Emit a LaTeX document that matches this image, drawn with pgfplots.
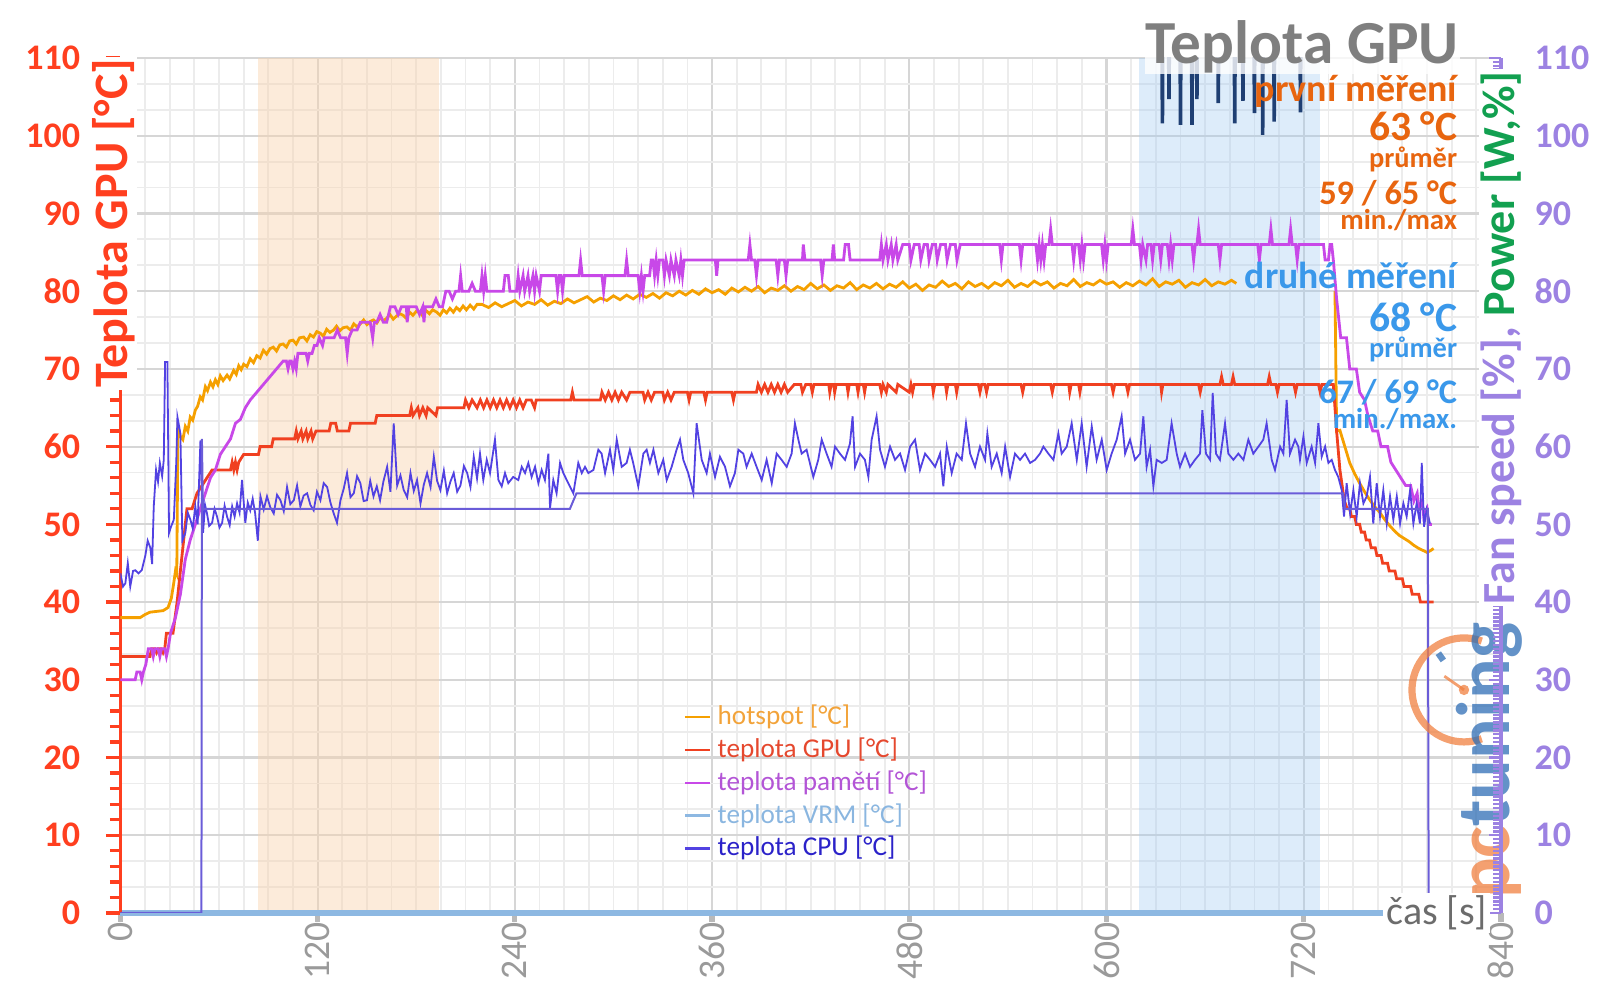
\documentclass[border=0pt]{standalone}
\usepackage{fontspec}
\setmainfont{Carlito}
\usepackage{pgfplots}
\pgfplotsset{compat=1.18}
\newcommand\fs[1]{\fontsize{#1}{#1}\selectfont}
\definecolor{hot}{HTML}{F5A000}
\definecolor{gpu}{HTML}{F04020}
\definecolor{mem}{HTML}{C848E8}
\definecolor{vrm}{HTML}{8DB8E2}
\definecolor{cpu}{HTML}{5242E2}
\definecolor{fan}{HTML}{6A5CD8}
\definecolor{navy}{HTML}{1F3F73}
\definecolor{axred}{HTML}{FF3F1F}
\definecolor{axpur}{HTML}{9C82E2}
\definecolor{pwrgreen}{HTML}{12A050}
\definecolor{titlegray}{HTML}{7F7F7F}
\definecolor{orangeT}{HTML}{E8650F}
\definecolor{blueT}{HTML}{3A98EA}
\definecolor{xgray}{HTML}{9A9A9A}
\definecolor{gridmaj}{HTML}{D6D6D6}
\definecolor{gridmin}{HTML}{ECECEC}
\definecolor{bandO}{HTML}{F8D2AC}
\definecolor{bandB}{HTML}{9EC8F2}
\definecolor{logoO}{HTML}{F08040}
\definecolor{logoB}{HTML}{2F6EB5}
\definecolor{lhot}{HTML}{F2A33A}
\definecolor{lgpu}{HTML}{E5482E}
\definecolor{lmem}{HTML}{B355D6}
\definecolor{lvrm}{HTML}{8AB6E0}
\definecolor{lcpu}{HTML}{2B22C9}
\begin{document}
\begin{tikzpicture}
\path[use as bounding box] (-30.1pt,-23.75pt) rectangle (369.9pt,228.25pt);
\pgfplotsset{base/.style={scale only axis, width=345.15pt, height=213.75pt,
  xmin=0, xmax=840, ymin=0, ymax=110, at={(0pt,0pt)}, anchor=south west,
  /pgf/number format/assume math mode=true}}

% grid and bands
\begin{axis}[base, axis line style={draw=none}, tick style={draw=none},
  xtick={0,120,...,840}, ytick={0,10,...,110}, minor x tick num=7, minor y tick num=2,
  xticklabels={}, yticklabels={}, grid=both,
  major grid style={draw=gridmaj, line width=0.55pt},
  minor grid style={draw=gridmin, line width=0.45pt}]
\addplot[draw=none, fill=bandO, fill opacity=0.45] coordinates {(84,110)(194,110)} \closedcycle;
\addplot[draw=none, fill=bandB, fill opacity=0.35] coordinates {(620,110)(730,110)} \closedcycle;
\end{axis}

% x axis (and the VRM series lying on it)
\begin{axis}[base, hide y axis, axis x line*=bottom, clip=false,
  axis line style={draw=gray!55, line width=0.5pt},
  xtick={0,120,...,840}, tick align=outside, major tick length=2.2pt,
  tick style={draw=gray!55, line width=1.3pt},
  xticklabel style={rotate=90, anchor=east, inner sep=0pt, font=\fs{9.4}, text=xgray}]
\addplot[vrm, line width=1.3pt] coordinates {(0,0)(797,0)};
\end{axis}

% left axis and data
\begin{axis}[base, hide x axis, axis y line*=left,
  axis line style={draw=axred, line width=0.8pt},
  ytick={0,10,...,110}, minor y tick num=4, tick align=outside,
  major tick length=3.6pt, minor tick length=2.6pt,
  tick style={draw=axred, line width=0.8pt},
  yticklabel style={font=\bfseries\fs{9}, text=axred, inner sep=0pt, anchor=east, xshift=-6.3pt},
  clip mode=individual, unbounded coords=jump,
  legend style={at={(rel axis cs:0.408,0.247)}, anchor=north west, draw=none, fill=none,
    inner sep=0pt, outer sep=0pt, row sep=0.5pt, font=\fs{6.8},
    nodes={inner sep=0.5pt, text height=5.2pt, text depth=1.5pt},
    /tikz/every odd column/.append style={column sep=1.0pt}},
  legend cell align=left,
  legend image code/.code={\draw[#1, line width=0.6pt] (0pt,0pt) -- (6.4pt,0pt);}]

\addplot[hot, line width=0.7pt] coordinates {
(0,38)(6,38)(12,38)(15,38.4)(18,38.7)(22,38.8)(26,38.9)(29,39.3)(31,40.5)(32.5,42.5)(33.5,44)(34.3,43.6)(35,62.2)(36.5,61.3)(38,60.9)(39.5,62.6)(41,62.0)(42.5,63.8)(44,63.4)(45.6,64.7)(47,65.2)(48.6,66.4)(50,66.0)(51.7,67.7)(53,67.2)(54.8,68.3)(56.3,67.7)(57.8,68.6)(59.3,68.0)(60.8,69.1)(62.5,68.5)(64.9,69.2)(66.5,68.7)(68.9,69.8)(70.5,69.3)(72,70.4)(73.5,69.9)(75,70.6)(77,70.3)(79,71.3)(81,70.8)(83,71.7)(85,71.4)(87,72.4)(89,71.9)(91,72.6)(93,72.8)(95,72.3)(97,73.1)(99,73.2)(101,72.8)(103,73.6)(105,73.7)(107,73.2)(109,74.0)(111.5,74.1)(113.5,73.6)(115.5,74.4)(117.5,74.1)(119.5,74.8)(121.6,74.6)(123.5,74.2)(125.5,75.1)(127.5,74.7)(129.7,75.0)(131.5,75.5)(133.5,74.9)(135.5,75.3)(137.8,75.4)(140,75.0)(142,75.8)(144,75.4)(146,75.8)(148,76.3)(150,75.7)(152,76.1)(154,76.3)(156,75.9)(158,76.6)(160,76.2)(162,76.5)(164,77.0)(166,76.4)(168,76.8)(170,77.1)(172,76.9)(174,76.5)(176,77.3)(178,76.9)(180,77.4)(182.3,77.3)(184,76.8)(186,77.5)(188,77.1)(190,77.6)(192.5,77.3)(194.5,76.9)(196.5,77.6)(198.5,77.2)(200.5,77.8)(202.6,77.3)(204.5,77.9)(206.5,77.5)(208.5,78.1)(210.5,77.6)(212.8,78.2)(215,77.7)(217,78.3)
(220,78.3)(224,77.9)(228,78.5)(232,78.0)(236,78.4)(240,78.8)(244,78.1)(248,78.6)(252,78.3)(256,78.9)(260,78.2)(264,78.7)(268,78.4)(272,79.0)(276,78.5)(280,78.9)(284,79.3)(288,78.6)(292,79.1)(296,78.8)(300,79.4)(304,78.9)(308,79.5)(312,79.0)(316,79.6)(320,79.2)(324,79.7)(328,79.1)(332,79.8)(336,79.4)(340,80.0)(344,79.5)(348,80.1)(352,79.6)(356,80.3)(360,79.8)(364,80.2)(368,79.6)(372,80.4)(376,79.9)(380,80.5)(384,80.0)(388,80.6)(392,79.8)(396,80.4)(400,80.1)(404,80.7)(408,80.0)(412,80.6)(416,80.2)(420,81.0)(424,80.3)(428,80.8)(432,80.1)(436,80.7)(440,80.4)(444,81.1)(448,80.2)(452,80.8)(456,80.4)(460,81.0)(464,80.3)(468,80.9)(472,80.5)(476,81.2)(480,80.4)(484,80.9)(488,80.1)(492,80.8)(496,80.5)(500,81.3)(504,80.6)(508,81.0)(512,80.3)(516,81.2)(520,80.6)(524,81.0)(528,80.4)(532,81.1)(536,80.7)(540,81.4)(544,80.5)(548,81.0)(552,80.6)(556,81.3)(560,80.8)(564,81.2)(568,80.4)(572,81.0)(576,80.7)(580,81.5)(584,80.6)(588,81.1)(592,80.8)(596,81.4)(600,80.9)(604,81.2)(608,80.5)(612,81.1)(616,80.7)(620,81.3)(624,80.8)(628,81.6)(632,80.6)(636,81.2)(640,80.9)(644,81.4)(648,80.5)(652,81.1)(656,80.8)(660,81.5)(664,80.7)(668,81.2)(672,80.9)(676,81.4)(679,81.0)
(700,nan)
(739,80)(740,62)(742,62.1)(745,60)(748,57.9)(751,56.5)(754,55.3)(757,54.2)(760,53.2)(763,52.3)(766,51.6)(769,50.7)(772,49.9)(775,49.2)(778,48.6)(781,48.2)(784,47.8)(787,47.3)(790,46.9)(793,46.6)(795,46.4)(797,46.6)(799,46.9)
};
\addlegendentry{\textcolor{lhot}{hotspot [°C]}}

\addplot[gpu, line width=0.7pt] coordinates {
(0,33)(18,33)(19,34)(21,34)(22,33.5)(23,34)(25,34)(26,33.5)(27,34)(28,36)(32,36)(34.5,40)(36.5,44)(39.5,50)(40.5,52)(43.6,52)(46.6,54)(49.7,55)(52.7,56)(55.8,57)(67,57)(68,58)(69,57)(70,58)(71,57)(72,58)(75,59)(84,59)(85,60)(92,60)(93,61)(106,61)(107,62)(108,61)(110,62)(111,61)(113,62)(114,61)(116,62)(117,61)(119,62)(127,62)(128,63)(131,63)(132,62)(139,62)(140,63)(155,63)(156,64)(176,64)(177,65)(178,64)(181,65)(182,64)(184,65)(186,64)(187,65)(192,64)(193,65)(209,65)(210,66)(212,65)(214,66)(217,65)(219,66)(221,65)(223,66)(225,65)(227,66)(229,65)(231,66)(233,65)(235,66)(237,65)(239,66)(241,65)(243,66)(245,65)(247,66)(250,66)(252,65)(253,66)(274,66)(275,67)(276,66)(292,66)(293,67)(295,66)(297,67)(299,66)(301,67)(303,66)(305,67)(308,66)(310,67)(318,67)(319,66)(321,67)(323,66)(325,67)(330,67)(331,66)(333,67)(335,66)(337,67)(345,67)(346,66)(347,67)(355,67)(356,66)(357,67)(372,67)(373,66)(374,67)(387,67)(388,68)(390,67)(392,68)(394,67)(396,68)(398,67)(400,68)(402,67)(404,68)(406,67)(410,68)(414,68)(415,67)(417,68)(420,68)(421,67)(422,68)
(431,68)(431.6,67)(432.5,68)(434,68)(434.6,67)(435.5,68)(442,68)(442.7,67)(443.5,68)(448,68)(448.8,67)(449.6,68)(452,68)(452.8,67)(453.6,68)(462,68)(463,67)(464,68)(466,67)(467,68)(472,67)(473,68)(480,67)(481,68)(482,67)(483,68)(494,68)(494.6,67)(495.5,68)(502,68)(502.7,67)(503.5,68)(508,68)(508.8,67)(509.6,68)(522,68)(523,67)(524,68)(526,68)(527,67)(528,68)(548,68)(549,67)(550,68)(566,68)(567,67)(568,68)(577,68)(577.6,67)(578.5,68)(583,68)(583.8,67)(584.6,68)(603,68)(604,67)(605,68)(612,68)(613,67)(614,68)(633,68)(633.5,67)(634.3,68)(656,68)(657,67)(658,68)(669,68)(670,69)(671,68)(676,68)(677,69)(678,68)(698,68)(699,69)(700,68)(703,68)(704,67)(705,68)(714,68)(715,67)(716,68)(729,68)(730,67)(731,68)(738,68)
(740,62)(742,57)(744.7,53)(746.5,52)(748,52)(749,51)(751,51)(752,50)(754,50)(755,49)(757,49)(758,48)(760,48)(761,47)(763.5,47)(764.5,46)(767,46)(768,45)(771,45)(772,44)(775.5,44)(776.5,43)(780,43)(781,42)(785,42)(786,41)(790,41)(791,40)(799,40)
};
\addlegendentry{\textcolor{lgpu}{teplota GPU [°C]}}

\addplot[mem, line width=0.7pt] coordinates {
(0,30)(9,30)(10,31)(12,31)(13,30)(14,31)(15.5,32)(17,34)(19,34)(20,33)(21,34)(23,34)(24,33)(25,34)(27,34)(28,33)(29,34)(30.5,36)(33.5,38)(36.5,41)(39.5,45.5)(42.5,48)(45.6,50)(48.6,52)(51.7,54)(54.8,56)(57.8,57)(60.8,59)(63.9,60)(67,61)(70,63)(73,63.5)(76,65)(79,66)(83,67)(87,68)(91,69)(95,70)(99,71)(101,71)(102,70)(103,71)(104,71)(105,70)(106,71)(107,70)(108,72)(110.5,72)(113,72)(114,71)(115,72)(116.6,72)(118,73)(119.6,73)(121,74)(123,73)(124,74)(126,74)(130,74)(132,75)(134,74)(137,74)(138,72)(139,74)(141,75)(144,75)(146,76)(148,76)(152,76)(153.5,74)(154.5,76)(156,76)(158,77)(160,76)(162,76)(164.3,78)(167,78)(169,77)(171,78)(174,78)(174.5,76)(175.5,78)(180,78)(182,77)(184,78)(184.7,76)(185.5,78)(190,78)(192,79)(194,78)(196,78)(198,80)(200,80)(202,79)(204,80)(206,80)(207,82)(208,80)(212,80)(214,81)(216,80)(219,80)(220,82)(221,80)(222,82)(223,80)(225,80)(233,80)(234,82)(236,82)(237,80)(241,80)(242,82)(243,80)(245,82)(246,80)(248,82)(249,80)(251,82)(252,80)(253,82)(255,80)(256,82)(257,82)(265,82)(266,80)(267,82)(268,82)(269,80)(270,82)(279,82)(280,84)(281,82)(293,82)(294,80)(295,82)(307,82)(308,84)(309,82)(315,82)(316,80)(317,82)(318,80)(319,82)(322,82)(323,84)(324,84)(325,82)(326,84)(327,82)(328,84)(330,84)(331,82)(332,84)(334,82)(335,84)(337,82)(338,84)(340,82)(341,84)(342,82)(343,84)(362,84)(362.8,82)(363.6,84)(382,84)(383,86)(384,84)(386,84)(387,82)(388,84)(399,84)(400,82)(401,84)(404,84)(405,82)(406,84)(415,84)(415.5,86)(416.5,84)(426,84)(427,82)(428,84)(433,84)(433.8,86)(434.6,84)(440,84)(441,86)(443,86)(444,84)(462,84)(463,86)(464,84)(466,86)(467,84)(469,86)(470,84)(472,86)(473,84)(476,86)(478,86)(480,86)(481,84)(483,86)(486,86)(487,84)(489,86)(491,86)(492,84)(494,86)(496,86)(497,84)(499,86)(502,86)(503,84)(505,86)(508,86)(509,84)(511,86)(515,86)(535,86)(536,84)(537,86)(547,86)(548,84)(549,86)(557,86)(558,84)(559,86)(560,84)(561,86)(562,84)(563,86)(565,86)(566,88)(567,86)(579,86)(580,84)(581,86)(583,86)(584,84)(585,86)(586,84)(587,86)(597,86)(598,84)(599,86)(600,84)(601,86)(615,86)(616,88)(617,86)(620,86)(621,84)(622,86)(624,84)(625,86)(627,86)(628,84)(629,86)(632,86)(633,84)(634,86)(637,86)(638,84)(639,86)(640,84)(641,86)(652,86)(653,84)(654,86)(655,86)(656,88)(657,86)(668,86)(669,84)(670,86)(692,86)(693,84)(694,86)(699,86)(700,88)(701,86)(711,86)(712,88)(713,86)(715,86)(716,84)(717,86)(732,86)(733,84)(735,84)(736,86)(737,86)(738,84)(740,79)(742.5,74)(746,74)(748,70)(752,70)(754,67)(757,66)(759,64)(762,62)(765,62)(767,60)(771,60)(773,58)(776,57)(779,56)(782,55)(785,55)(787,53)(789,54)(790,52)(792,53)(793,51)(795,52)(796,50)(798,50)
};
\addlegendentry{\textcolor{lmem}{teplota pamětí [°C]}}

\addlegendimage{vrm, line width=0.6pt}
\addlegendentry{\textcolor{lvrm}{teplota VRM [°C]}}

\addplot[cpu, line width=0.45pt] coordinates {
(0,43.7)(1.6,42.0)(3,42.4)(4.5,45.0)(6,42.0)(7.7,44.0)(9,44.1)(11,43.7)(13,44.1)(15.2,46.0)(16.6,47.9)(18.2,47.0)(19.3,44.9)(20.3,52.3)(21.7,57.0)(22.9,55.5)(24,57.9)(25.4,56.2)(26.4,58.3)(27.2,70.9)(28.6,70.9)(29.6,48.9)(30.8,49.7)(32.5,50.6)(34,58)(34.7,63.8)(36.5,61.7)(37.7,47.9)(39.5,48.9)(41,51.5)(42.6,50.6)(44,49.5)(45.6,52.3)(47,50)(48.7,60.8)(50.3,48.9)(51.5,52.5)(52.7,51.4)(54,49.8)(55.8,50.2)(57.3,52.0)(58.8,51.0)(60.3,49.6)(61.9,50.2)(63.4,52.4)(64.9,51.0)(66.5,49.9)(68,52.3)(69.5,51.0)(71,52.7)(72.5,51.5)(74,55.7)(76,50.2)(77.5,52.8)(79,51.8)(80.5,53.3)(82,51.4)(83.6,47.9)(85.2,53.6)(87.2,51.9)(89.2,53.6)(91.2,52.2)(93.3,51.4)(95.3,53.8)(97.4,53.1)(99.4,51.7)(101.4,54.8)(103.4,52.6)(105.5,53.1)(107.5,55.0)(109.5,52.3)(111.5,53.7)(113.6,54.0)(115.6,52.5)(117.6,51.8)(119.6,54.2)(121.7,53.1)(123.7,55.3)(125.8,54.8)(127.8,52.8)(129.8,51.4)(131.8,50.2)(133.9,53.1)(135.9,54.6)(137.9,56.6)(140,53.5)(142,54.0)(144,56.2)(146,55.3)(148,53.0)(150,53.1)(152,55.6)(154,53.6)(156,54.9)(158,53.1)(160,55.5)(162.3,57.4)(164.3,54.2)(166.3,63.0)(168.4,55.0)(170.4,56.3)(172.4,54.4)(174.5,53.5)(176.5,56.6)(178.5,54.3)(180.5,55.7)(182.6,52.7)(184.6,55.1)(186.6,56.6)(188.7,54.8)(190.7,58.7)(192.7,55.6)(194.7,54.4)(196.8,56.9)(198.8,54.0)(200.8,55.5)(202.8,56.6)(204.9,54.2)(206.9,55.0)(209,57.5)(211,56.6)(213,54.8)(215,58.7)(217,55.9)
(218.8,59.1)(220.8,55.7)(222.9,58.3)(224.9,56.6)(227.9,60.9)(230,55.7)(232,54.9)(234,56.6)(236,55.3)(239,56.1)(242.1,55.7)(244.2,57.4)(246.2,56.6)(248.2,57.9)(250.2,56.1)(252.3,57.4)(254.3,55.3)(256.3,57.0)(258.3,55.7)(260.4,59.1)(261.4,52.1)(263.4,55.7)(265.4,54.0)(267.5,57.9)(269.5,56.6)(272.5,55.3)(275.6,54.0)(278.6,57.9)(280.7,56.6)(282.7,57.4)(284.7,56.6)(287.8,57.0)(290.8,59.6)(292.8,59.1)(294.9,56.6)(297.9,59.6)(299.9,57.0)(302,60.9)(305,57.4)(308,57.9)(310,59.6)(312,57.9)(315.1,54.9)(318.2,59.1)(320.2,59.6)(322.2,57.9)(324.3,59.6)(327.3,56.6)(330.3,58.3)(332.4,55.7)(335.4,57.4)(338.4,59.6)(340.5,60.9)(342.5,58.3)(345.5,56.6)(348.6,54.0)(350.6,63.0)(353.7,58.3)(356.7,56.6)(358.7,59.1)(361.8,56.1)(364.8,58.7)(367.9,57.4)(370.9,54.9)(373.9,56.6)(376,59.6)(379,59.1)(381,57.4)(384.1,59.1)(387.1,57.4)(390.2,55.7)(393.2,58.3)(396.3,55.3)(399.3,59.1)(402.3,58.3)(405.4,57.4)(408.4,59.1)(410.4,63.0)(412.5,60.9)(414.5,59.1)(417.5,59.6)(421.6,56.1)(424.6,58.3)(426.7,60.9)(429.7,59.1)(432.7,57.4)(434.8,60.0)(437.8,59.1)(440.9,58.3)(443.9,60.4)(445.5,63.9)(447,57.4)(450,59.1)(453,58.3)(455.1,56.1)(457.1,60.9)(460.1,63.9)
(462.2,59.6)(465.2,57.4)(468.3,60.0)(471.3,58.3)(474.4,59.1)(477.4,57.0)(480.5,60.0)(483.5,60.9)(486.5,57.0)(489.6,59.1)(492.6,58.3)(495.7,57.4)(498.7,59.1)(500.7,54.9)(502.8,60.0)(505.8,56.6)(508.8,59.1)(511.9,58.3)(514.5,63.0)(517,59.1)(520,57.4)(523,60.0)(526.1,58.3)(527.5,61.7)(530.1,57.4)(533.2,59.1)(536.2,56.6)(538.3,60.0)(541.3,56.1)(544.3,59.1)(547.4,58.3)(550.4,59.1)(553.5,57.9)(556.5,58.3)(559.5,59.1)(561.6,60.0)(564.6,59.1)(567.7,58.3)(570.7,61.7)(572.7,59.1)(575.8,60.0)(578.8,63.0)(581.9,58.3)(584.9,63.0)(587.9,57.4)(591,62.6)(594,58.3)(597.1,60.9)(600.1,57.0)(603.1,59.1)(606.2,60.9)(609.2,63.9)(611.3,59.1)(614.3,60.9)(617.3,58.3)(620.4,59.1)(622.4,63.9)(624.4,57.4)(626.5,59.6)(628.5,54.9)(630.5,58.3)(633.6,57.9)(636.6,58.3)(639.6,63.0)(642.7,59.1)(644.7,57.4)(647.8,59.1)(650.8,57.4)(653.8,58.3)(656.9,59.1)(658.3,64.7)(660.5,59.1)(663,58.3)(664.6,66.9)(666.6,59.1)(669,58.3)(672.1,63.0)(674.1,59.1)(677.2,58.3)(680.2,59.1)(683.3,58.3)(686.3,60.9)(689.3,59.1)(692.4,60.0)(695.4,60.9)(697.4,63.0)(700.5,58.3)(702.5,57.0)(705.6,60.0)(707.6,59.1)(709.6,66.0)(711.6,59.1)(714.7,60.9)(716.7,60.0)
(717.7,58.3)(719.8,61.3)(721.8,57.9)(724.8,60.0)(726.9,57.9)(728.9,63.0)(730.9,58.7)(733,60.0)(735,57.9)(737,58.3)(739,57.0)(741,56.1)(743.1,54.4)(744.5,51.0)(746.1,55.3)(748.2,51.4)(750.2,54.4)(752.2,51.0)(754.2,55.3)(756.3,52.7)(758.3,53.6)(760.3,56.1)(762.3,50.1)(764.4,55.3)(766.4,51.0)(768.4,54.4)(770.5,50.1)(772.5,53.6)(774.5,50.6)(776.6,53.6)(778.6,50.1)(780.6,52.7)(782.6,51.0)(784.7,54.4)(786.7,50.1)(788.7,52.7)(790.7,50.1)(791.8,57.9)(793.2,49.7)(794.8,51.9)(796.8,50.1)
};
\addlegendentry{\textcolor{lcpu}{teplota CPU [°C]}}

\addplot[fan, line width=0.5pt, forget plot] coordinates {
(0,0)(49.3,0)(49.6,61)(50.2,52)(273.5,52)(277.5,54)(744,54)(745,52)(795.5,52)(796,0)(799,0)};

\addplot[navy, line width=0.9pt, forget plot] coordinates {
(628,115)(633.7,115)(634,101.6)(634.3,115)(637.7,115)(638,104.7)(638.3,115)(644.7,115)(645,101.4)(645.3,115)(651.7,115)(652,101.4)(652.3,115)(654.7,115)(655,104.7)(655.3,115)(667.7,115)(668,104.2)(668.3,115)(677.7,115)(678,101.6)(678.3,115)(682.7,115)(683,104.5)(683.3,115)(689.7,115)(690,102.9)(690.3,115)(694.7,115)(695,100.1)(695.3,115)(701.7,115)(702,101.8)(702.3,115)(717.7,115)(718,103)(718.3,115)(725,115)};

% annotations
\node[anchor=base east, font=\bfseries\fs{15.3}, text=titlegray, fill=white, fill opacity=0.8, text opacity=1, inner sep=0.3pt] at (axis cs:815.5,109.35) {Teplota GPU};
\node[anchor=base east, font=\bfseries\fs{9.5}, text=orangeT, inner sep=0pt] at (axis cs:813.8,104.4) {první měření};
\node[anchor=base east, font=\bfseries\fs{10.4}, text=orangeT, inner sep=0pt] at (axis cs:813.8,99.45) {63 °C};
\node[anchor=base east, font=\bfseries\fs{7.1}, text=orangeT, inner sep=0pt] at (axis cs:813.8,95.85) {průměr};
\node[anchor=base east, font=\bfseries\fs{8.6}, text=orangeT, inner sep=0pt] at (axis cs:813.8,91.1) {59 / 65 °C};
\node[anchor=base east, font=\bfseries\fs{7.2}, text=orangeT, inner sep=0pt] at (axis cs:813.8,87.9) {min./max};
\node[anchor=base east, font=\bfseries\fs{9.4}, text=blueT, inner sep=0pt] at (axis cs:813.8,80.4) {druhé měření};
\node[anchor=base east, font=\bfseries\fs{10.4}, text=blueT, inner sep=0pt] at (axis cs:813.8,74.75) {68 °C};
\node[anchor=base east, font=\bfseries\fs{7.1}, text=blueT, inner sep=0pt] at (axis cs:813.8,71.45) {průměr};
\node[anchor=base east, font=\bfseries\fs{8.6}, text=blueT, inner sep=0pt] at (axis cs:813.8,65.5) {67 / 69 °C};
\node[anchor=base east, font=\bfseries\fs{7.2}, text=blueT, inner sep=0pt] at (axis cs:813.8,62.3) {min./max.};

% logo
\draw[logoO, line width=1.8pt, opacity=0.75] (axis cs:817.5,28.7) ++(70:13pt) arc[start angle=70, end angle=290, radius=13pt];
\draw[logoB, line width=1.6pt, opacity=0.75] (axis cs:817.5,28.7) ++(125:9pt) -- ++(125:2.2pt);
\draw[logoO, line width=0.7pt, opacity=0.75] (axis cs:817.5,28.7) -- ++(145:6pt);
\fill[logoO, opacity=0.75] (axis cs:817.5,28.7) circle (1.3pt);
\node[rotate=90, anchor=base west, font=\bfseries\fs{19}, inner sep=0pt, opacity=0.75] at ([xshift=2.3pt]axis cs:839.4,1.7) {\textcolor{logoO}{pc}\textcolor{logoB}{tuning}};
\end{axis}

% right axis
\begin{axis}[base, hide x axis, axis y line*=right,
  axis line style={draw=axpur, line width=0.8pt},
  ytick={0,10,...,110}, minor y tick num=19, tick align=inside,
  major tick length=3pt, minor tick length=2pt,
  tick style={draw=axpur, line width=0.6pt},
  yticklabel style={font=\bfseries\fs{9}, text=axpur, inner sep=0pt, anchor=west, xshift=8.2pt}]
\end{axis}

% axis titles on top
\begin{axis}[base, hide axis, clip=false]
\node[rotate=90, anchor=east, font=\bfseries\fs{12}, text=axred, fill=white, inner sep=0.5pt]
  at ([xshift=-1.6pt,yshift=0.5pt]rel axis cs:0,1) {Teplota GPU [°C]};
\node[rotate=90, anchor=west, font=\bfseries\fs{11.5}, fill=white, inner sep=0.5pt]
  at (rel axis cs:1,0.358) {\textcolor{axpur}{Fan speed [\%],} \textcolor{pwrgreen}{Power [W,\%]}};
\node[font=\fs{10}, text=gray!85!black, fill=white, inner sep=0.8pt] at (axis cs:801,0) {čas [s]};
\end{axis}
\end{tikzpicture}
\end{document}
